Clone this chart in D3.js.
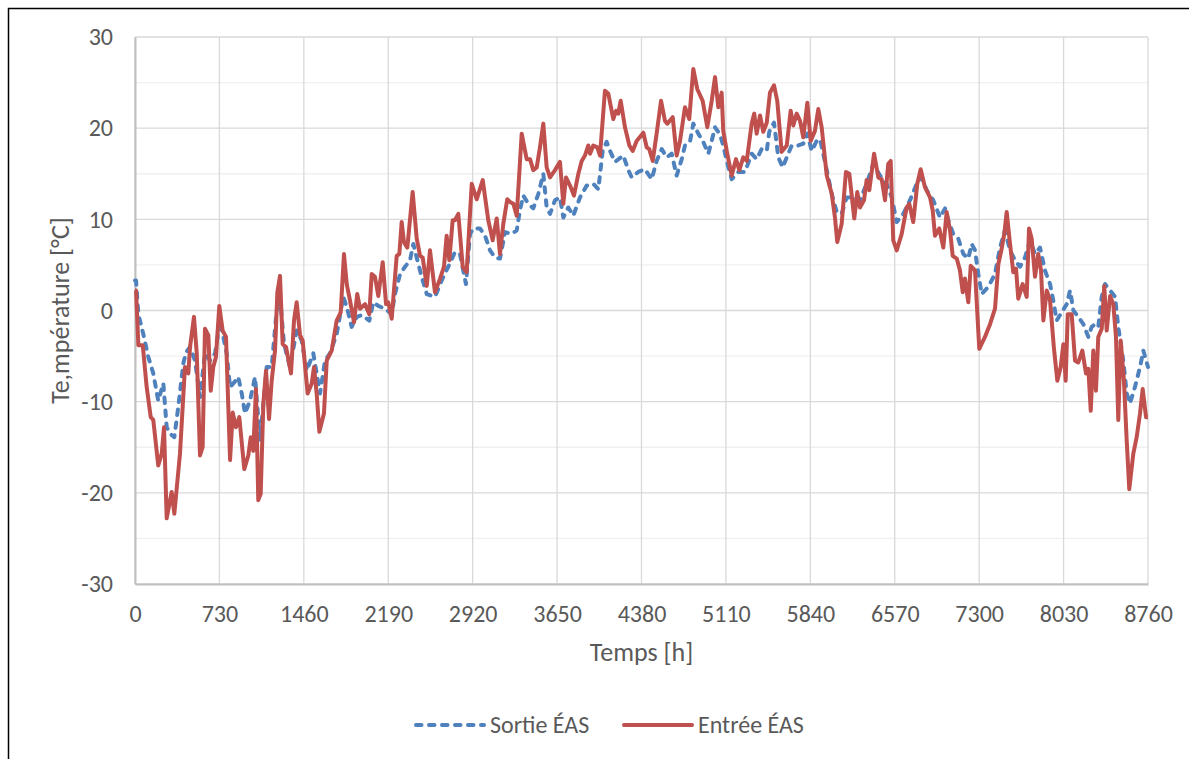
<!DOCTYPE html>
<html><head><meta charset="utf-8">
<script src="https://cdn.jsdelivr.net/npm/d3@7"></script>
<style>
html,body{margin:0;padding:0;background:#fff;}
svg text{font-family:Carlito,Calibri,Lato,"Open Sans",sans-serif;fill:#595959;}
</style></head>
<body>
<script>
// ---- data ----
const xTicks = [0,730,1460,2190,2920,3650,4380,5110,5840,6570,7300,8030,8760];
const yTicks = [-30,-20,-10,0,10,20,30];
const yMinorTicks = [-25,-15,-5,5,15,25];
const seriesNames = ["Sortie ÉAS","Entrée ÉAS"];

const sortieHours = [0,9,29,72,115,158,201,245,274,303,340,374,418,441,476,519,562,605,649,692,735,793,822,850,893,923,951,994,1038,1081,1139,1182,1225,1254,1288,1340,1398,1442,1485,1542,1600,1643,1686,1744,1801,1831,1874,1917,1960,2026,2061,2104,2162,2220,2248,2292,2335,2378,2407,2450,2479,2523,2594,2652,2709,2767,2810,2862,2897,2925,2983,3027,3070,3113,3156,3200,3258,3301,3329,3358,3401,3444,3488,3531,3560,3589,3632,3675,3704,3747,3790,3848,3906,3963,4007,4044,4079,4108,4151,4223,4266,4295,4352,4410,4468,4511,4555,4598,4641,4684,4728,4756,4799,4828,4871,4914,4958,4987,5016,5059,5087,5117,5160,5217,5275,5333,5376,5419,5463,5485,5526,5563,5601,5636,5679,5736,5779,5814,5852,5895,5924,5982,6025,6068,6111,6154,6212,6269,6327,6385,6442,6500,6544,6587,6644,6702,6760,6803,6846,6903,6961,7005,7033,7076,7119,7163,7206,7235,7264,7293,7322,7379,7437,7480,7523,7567,7610,7653,7696,7740,7783,7826,7869,7913,7941,7970,8014,8057,8086,8115,8157,8201,8244,8273,8302,8330,8360,8388,8432,8475,8503,8546,8576,8604,8647,8691,8720,8760];
const sortieTemps = [3.3,3.3,-0.4,-2.6,-5.1,-6.9,-9.9,-8,-12.8,-13.5,-13.9,-10.6,-5.8,-4.6,-4,-5.5,-9.5,-4.7,-5.5,-4.7,-1.1,-4.7,-8.4,-8,-7.3,-9.1,-11.3,-9.9,-7.3,-14.3,-6.2,-6.2,0,1.5,-3.6,-6.2,-2.2,-3.3,-6.6,-4.7,-9.1,-5.5,-4.7,-2.6,1.5,0.4,-1.8,-0.7,-0.5,-1.1,0.9,0.5,0.2,-0.4,1.8,4,4.8,5.5,7.3,5.1,3.7,1.8,1.5,3.3,4.8,6.4,6.2,2.9,8.4,9,9,8.2,6.6,5.8,5.7,8.6,8.4,8.8,11,12.6,11.7,11.2,12.8,15,11.3,10.6,12.1,12.4,10.2,11.3,10.4,12.4,13.7,13.9,13.3,17.5,18.5,17.5,16.3,17,15.4,14.6,15.2,15.5,14.4,16.4,17.7,16.8,17.2,14.8,16.6,18.1,18.5,20.5,19.4,18.5,17.2,18.6,20.1,19.3,18.1,16.4,14.4,15.2,15.2,17.2,16.6,17.7,17.5,19.6,20.6,16.8,15.7,16.8,18.1,18.1,18.3,19.4,17.5,18.6,18.8,15.4,12.8,10.8,10.6,12.4,12.4,12.1,13.9,16.1,14.8,13.9,12.4,9.7,10.6,12.1,13.9,14.6,13.2,12.1,10.2,11.2,9.9,8.4,7.9,6.2,5.7,7.3,6.6,4,1.8,2.6,4,6.9,8.8,6.6,5.5,4.8,5.8,7.7,6.2,6.9,4.4,2.9,1.1,-1.1,-0.2,0.7,2.2,0,-0.7,-1.5,-2.9,-1.8,-1.5,-1.8,1.5,2.9,2.2,1.5,-1.8,-5.5,-9.1,-10.2,-8.4,-6.2,-4.4,-6.2];

const entreeHours = [0,9,29,67,101,136,158,201,231,251,274,317,340,389,432,461,476,510,534,562,585,605,634,655,677,700,729,758,787,822,845,873,902,945,980,1001,1023,1046,1066,1087,1110,1133,1159,1182,1211,1231,1254,1277,1306,1349,1375,1398,1427,1450,1493,1528,1548,1571,1594,1634,1658,1701,1744,1779,1807,1831,1859,1894,1922,1946,1989,2026,2047,2075,2104,2142,2171,2190,2220,2263,2286,2306,2326,2355,2401,2436,2465,2488,2523,2551,2594,2638,2672,2695,2718,2747,2767,2796,2834,2868,2912,2955,3007,3055,3093,3128,3156,3185,3219,3243,3272,3301,3344,3387,3416,3444,3474,3502,3531,3560,3589,3632,3675,3704,3727,3762,3796,3834,3863,3891,3920,3935,3963,3998,4021,4064,4093,4136,4160,4179,4200,4237,4275,4304,4338,4396,4425,4447,4477,4511,4549,4583,4603,4650,4684,4713,4756,4793,4828,4862,4909,4949,4987,5016,5044,5073,5087,5117,5160,5197,5226,5260,5290,5333,5355,5376,5405,5433,5463,5491,5526,5554,5592,5636,5670,5693,5722,5751,5779,5814,5843,5880,5909,5938,5982,6025,6053,6073,6111,6148,6177,6220,6246,6269,6304,6327,6350,6391,6428,6457,6486,6514,6535,6557,6587,6630,6673,6696,6730,6765,6794,6832,6875,6898,6918,6955,6990,7019,7048,7071,7106,7134,7158,7177,7206,7227,7264,7301,7350,7394,7437,7466,7495,7517,7538,7567,7595,7619,7638,7676,7711,7731,7754,7783,7811,7835,7855,7884,7913,7947,7976,8005,8028,8048,8066,8100,8129,8157,8192,8224,8244,8265,8287,8310,8330,8360,8382,8403,8432,8460,8483,8503,8524,8552,8576,8598,8633,8662,8691,8714,8743,8760];
const entreeTemps = [2.2,2.2,-3.8,-3.8,-8.4,-11.7,-12,-17,-15.7,-12.8,-22.8,-19.9,-22.3,-15.7,-6.2,-6.9,-4,-0.7,-4.7,-15.9,-15,-2,-2.7,-8.8,-6.2,-5.1,0.5,-2.2,-2.9,-16.4,-11.2,-12.8,-11.7,-17.4,-15.9,-13.9,-15.4,-8.6,-20.8,-20.1,-10.2,-6.6,-11.9,-7.7,-4.4,2,3.8,-3.7,-4,-6.9,-1.1,0.9,-2.7,-3.3,-9.1,-8,-6.2,-9.1,-13.3,-11.3,-5.5,-4.4,-1.1,-0.2,6.2,2.9,1.1,-1.3,1.8,0.2,0.7,-0.4,4,3.7,1.6,5.3,0.7,0.9,-0.9,6,6.2,9.7,7.5,6.9,13,7.9,6,5.8,2.7,6.6,2,3.5,4.8,8.2,5.5,9.9,9.9,10.6,4.8,4.2,13.9,12.2,14.3,9.9,7.7,10.1,6.2,9.5,12.2,11.9,11.7,10.4,19.4,16.6,16.6,15.4,15.7,17.9,20.5,15.7,14.6,15.4,16.3,11.7,14.6,13.7,12.6,15,16.4,17,18.1,17.2,18.1,17.9,17,24.1,23.8,21,21.9,21.6,23,20.1,18.1,17.5,18.6,19.5,17.9,17.7,16.4,19.4,23,20.8,20.5,21.2,17,18.6,22.3,21,26.5,24.3,23,20.1,23,25.6,22.3,23.9,19.7,17.5,14.8,16.6,15.4,16.8,16.4,20.5,21.6,19.4,21.4,19.6,20.6,23.9,24.7,23,17.4,18.1,21.9,20.3,21.6,20.8,19,22.8,18.6,19.7,22.1,20.1,14.8,12.8,10.2,7.5,9.5,15.2,15,10.1,13,11.3,12.1,14.3,13.2,17.2,14.6,14.4,12.1,16.1,16.4,7.7,6.6,8.4,11.3,11.7,9.7,13.9,15.5,13.5,12.4,11,8.2,9,6.9,10.8,8.8,6,5.7,4.4,2,3.5,0.9,4.9,4.4,-4.2,-2.9,-1.5,0.2,5.1,6.8,8.4,10.8,7.3,4.2,4.6,1.3,2.9,1.5,9,7.9,3.7,6.2,4.4,-1.1,2.2,1.1,-4.2,-7.7,-6.2,-3.7,-7.7,-0.4,-0.4,-5.5,-5.7,-4.4,-6.9,-6.4,-11,-4.4,-8.8,-2.9,-2,2.7,-2.2,1.6,0.7,-2.9,-12,-3.3,-7.7,-14.3,-19.6,-15.7,-13.9,-11.3,-8.6,-11.7,-11.7];

// ---- chart ----
const W = 1189, H = 759;
const svg = d3.select("body").append("svg").attr("width",W).attr("height",H);

const x = d3.scaleLinear().domain([0,8760]).range([135,1148]);
const y = d3.scaleLinear().domain([-30,30]).range([584,37]);
const fmt = d => String(d);

// outer border
svg.append("rect").attr("x",8.5).attr("y",8.5).attr("width",1300).attr("height",900)
  .attr("fill","none").attr("stroke","#000").attr("stroke-width",1.5);

// minor gridlines
svg.append("g").selectAll("line").data(yMinorTicks).join("line")
  .attr("x1",x(0)).attr("x2",x(8760)).attr("y1",d=>y(d)).attr("y2",d=>y(d))
  .attr("stroke","#f0f0f0").attr("stroke-width",1.3);
// major gridlines
svg.append("g").selectAll("line").data(yTicks).join("line")
  .attr("x1",x(0)).attr("x2",x(8760)).attr("y1",d=>y(d)).attr("y2",d=>y(d))
  .attr("stroke","#d9d9d9").attr("stroke-width",1.3);
svg.append("g").selectAll("line").data(xTicks).join("line")
  .attr("x1",d=>x(d)).attr("x2",d=>x(d)).attr("y1",y(-30)).attr("y2",y(30))
  .attr("stroke","#d9d9d9").attr("stroke-width",1.3);

// axes
const yAxis = d3.axisLeft(y).tickValues(yTicks).tickFormat(fmt).tickSize(0).tickPadding(22);
const gy = svg.append("g").attr("transform",`translate(${x(0)},0)`).call(yAxis);
gy.select(".domain").attr("stroke","#bfbfbf").attr("stroke-width",2);
gy.selectAll("text").style("font-size","24px").attr("fill","#595959");

const xAxis = d3.axisBottom(x).tickValues(xTicks).tickFormat(fmt).tickSize(0).tickPadding(21);
const gx = svg.append("g").attr("transform",`translate(0,${y(-30)})`).call(xAxis);
gx.select(".domain").attr("stroke","#bfbfbf").attr("stroke-width",2);
gx.selectAll("text").style("font-size","24px").attr("fill","#595959");

// axis titles
svg.append("text").attr("x",(x(0)+x(8760))/2).attr("y",661).attr("text-anchor","middle")
  .style("font-size","26px").text("Temps [h]");
svg.append("text").attr("transform",`translate(69,${(y(-30)+y(30))/2}) rotate(-90)`)
  .attr("text-anchor","middle").style("font-size","26px").text("Te,mpérature [°C]");

// lines
const line = d3.line().x(d=>x(d[0])).y(d=>y(d[1]));
const sortie = d3.zip(sortieHours, sortieTemps);
const entree = d3.zip(entreeHours, entreeTemps);
svg.append("path").datum(sortie).attr("d",line).attr("fill","none")
  .attr("stroke","#4F81BD").attr("stroke-width",4).attr("stroke-dasharray","5.5,7.5")
  .attr("stroke-linecap","round").attr("stroke-linejoin","round");
svg.append("path").datum(entree).attr("d",line).attr("fill","none")
  .attr("stroke","#C0504D").attr("stroke-width",4).attr("stroke-linejoin","round");

// legend
const lg = svg.append("g");
const legendItems = [
  {name:seriesNames[0], color:"#4F81BD", dash:"5.5,7.5", x0:416},
  {name:seriesNames[1], color:"#C0504D", dash:null, x0:624}
];
legendItems.forEach(it=>{
  lg.append("line").attr("x1",it.x0).attr("x2",it.x0+68).attr("y1",725).attr("y2",725)
    .attr("stroke",it.color).attr("stroke-width",4)
    .attr("stroke-dasharray",it.dash).attr("stroke-linecap","round");
  lg.append("text").attr("x",it.x0+74).attr("y",725).attr("dy","0.35em")
    .style("font-size","24px").text(it.name);
});
</script>
</body></html>
